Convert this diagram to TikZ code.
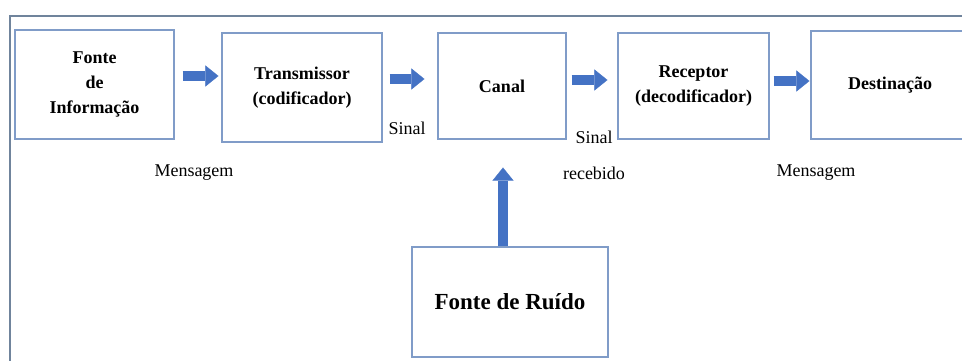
\documentclass[tikz,border=0pt]{standalone}
\usepackage{fontspec}
\setmainfont{Liberation Serif}
\usetikzlibrary{arrows.meta}
\definecolor{boxblue}{RGB}{128,156,200}
\definecolor{arrowblue}{RGB}{68,114,196}
\definecolor{framegray}{RGB}{112,132,156}

\begin{document}
\begin{tikzpicture}[x=1pt, y=1pt,
  caixa/.style={draw=boxblue, line width=1.2pt, align=center, inner sep=0pt,
    font=\bfseries\fontsize{18}{25}\selectfont},
  rotulo/.style={inner sep=0pt, font=\fontsize{18}{22}\selectfont},
  seta/.style={draw=arrowblue, line width=10pt,
    -{Triangle[length=13pt, width=21pt, line width=0.1pt]}}]
 \useasboundingbox (0,0) rectangle (962,360);
 \draw [framegray, line width=1.2pt] (10,-10) rectangle (980,344);

 \node [caixa, minimum width=159pt, minimum height=109pt] (fonte) at (94.5,275.5) {Fonte\\de\\Informação};
 \node [caixa, minimum width=160pt, minimum height=109pt] (trans) at (302,272.5) {Transmissor\\(codificador)};
 \node [caixa, minimum width=128pt, minimum height=106pt] (canal) at (502,274) {Canal};
 \node [caixa, minimum width=151pt, minimum height=106pt] (recep) at (693.5,274) {Receptor\\(decodificador)};
 \node [caixa, minimum width=158pt, minimum height=108pt] (dest) at (890,275) {Destinação};
 \node [caixa, minimum width=196pt, minimum height=110pt, font=\bfseries\fontsize{23}{28}\selectfont] (ruido) at (510,58) {Fonte de Ruído};

 \draw [seta] ([xshift=8pt,yshift=8.5pt]fonte.east) -- ([xshift=-3pt,yshift=11.5pt]trans.west);
 \draw [seta] ([xshift=7pt,yshift=8.5pt]trans.east) -- ([xshift=-13pt,yshift=7pt]canal.west);
 \draw [seta] ([xshift=5pt,yshift=6pt]canal.east) -- ([xshift=-10pt,yshift=6pt]recep.west);
 \draw [seta] ([xshift=4pt,yshift=5pt]recep.east) -- ([xshift=-1pt,yshift=4pt]dest.west);
 \draw [seta] ([xshift=1pt]canal.south |- ruido.north) -- ([xshift=1pt,yshift=-28pt]canal.south);

 \node [rotulo] (sinal1) at (407,232) {Sinal};
 \node [rotulo] (msg1) at (194,187) {Mensagem};
 \node [rotulo] (sinal2) at (594,223) {Sinal};
 \node [rotulo] (receb) at (594,187) {recebido};
 \node [rotulo] (msg2) at (816,187) {Mensagem};
\end{tikzpicture}
\end{document}
